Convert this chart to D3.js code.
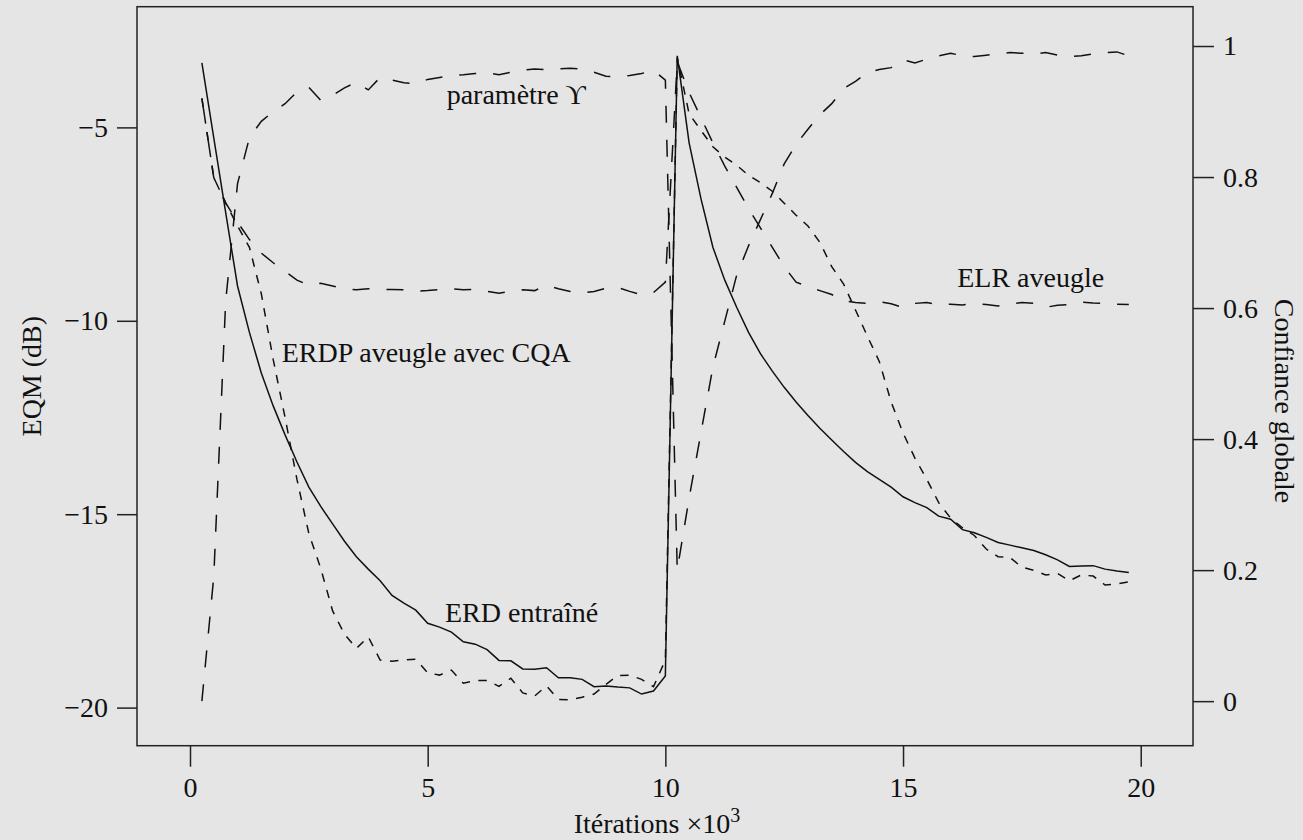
<!DOCTYPE html>
<html>
<head>
<meta charset="utf-8">
<script src="https://cdn.jsdelivr.net/npm/d3@7"></script>
<style>
  body { margin: 0; background: #e5e5e5; }
  svg { display: block; }
  text { font-family: "Liberation Serif", "Times New Roman", serif; fill: #111; }
</style>
</head>
<body>
<svg width="1303" height="840"></svg>
<script>
// iterations (x 10^3)
var iterations = [0.25,0.5,0.75,1,1.25,1.5,1.75,2,2.25,2.5,2.75,3,3.25,3.5,3.75,4,4.25,4.5,4.75,5,
  5.25,5.5,5.75,6,6.25,6.5,6.75,7,7.25,7.5,7.75,8,8.25,8.5,8.75,9,9.25,9.5,9.75,10,
  10.25,10.5,10.75,11,11.25,11.5,11.75,12,12.25,12.5,12.75,13,13.25,13.5,13.75,14,14.25,14.5,14.75,15,
  15.25,15.5,15.75,16,16.25,16.5,16.75,17,17.25,17.5,17.75,18,18.25,18.5,18.75,19,19.25,19.5,19.75];

// EQM (dB) - ERD entraîné
var erd = [-3.33,-5.27,-7.2,-9.1,-10.3,-11.35,-12.2,-12.95,-13.65,-14.3,-14.8,-15.25,-15.7,-16.1,-16.42,-16.72,-17.1,-17.3,-17.48,-17.82,
  -17.92,-18.05,-18.3,-18.36,-18.5,-18.78,-18.79,-19.0,-19.01,-18.97,-19.23,-19.23,-19.27,-19.46,-19.44,-19.47,-19.49,-19.65,-19.57,-19.18,
  -3.15,-5.4,-6.85,-8.1,-8.95,-9.65,-10.3,-10.85,-11.3,-11.72,-12.1,-12.45,-12.78,-13.08,-13.38,-13.66,-13.9,-14.1,-14.3,-14.55,
  -14.7,-14.83,-15.05,-15.13,-15.4,-15.48,-15.6,-15.73,-15.8,-15.87,-15.94,-16.05,-16.18,-16.35,-16.34,-16.33,-16.42,-16.47,-16.51];

// EQM (dB) - ERDP aveugle avec CQA
var erdp = [-4.25,-6.3,-6.95,-7.55,-8.1,-9.3,-11.0,-12.5,-14.1,-15.5,-16.4,-17.5,-18.1,-18.47,-18.17,-18.77,-18.8,-18.77,-18.75,-19.1,
  -19.16,-19.03,-19.37,-19.3,-19.3,-19.45,-19.24,-19.62,-19.7,-19.44,-19.79,-19.8,-19.73,-19.65,-19.4,-19.17,-19.16,-19.27,-19.46,-18.77,
  -3.2,-4.65,-5.08,-5.5,-5.77,-5.98,-6.24,-6.43,-6.65,-6.96,-7.27,-7.55,-7.97,-8.6,-9.05,-9.72,-10.4,-11.05,-12.1,-12.9,
  -13.55,-14.1,-14.7,-15.1,-15.35,-15.55,-15.9,-16.1,-16.12,-16.37,-16.45,-16.57,-16.53,-16.72,-16.57,-16.6,-16.83,-16.8,-16.75];

// EQM (dB) - ELR aveugle
var elr = [-4.25,-6.3,-6.95,-7.45,-7.9,-8.25,-8.5,-8.72,-8.95,-9.08,-9.03,-9.1,-9.17,-9.2,-9.17,-9.19,-9.19,-9.2,-9.24,-9.22,
  -9.19,-9.17,-9.2,-9.19,-9.24,-9.29,-9.23,-9.2,-9.22,-9.08,-9.17,-9.24,-9.28,-9.24,-9.16,-9.14,-9.24,-9.33,-9.27,-9.0,
  -3.3,-4.1,-4.75,-5.4,-6.0,-6.55,-7.1,-7.6,-8.1,-8.6,-9.0,-9.12,-9.22,-9.32,-9.48,-9.53,-9.55,-9.51,-9.56,-9.66,
  -9.55,-9.53,-9.59,-9.57,-9.59,-9.55,-9.58,-9.62,-9.56,-9.53,-9.55,-9.65,-9.6,-9.58,-9.52,-9.54,-9.55,-9.57,-9.58];

// Confiance globale - paramètre ϒ
var upsilon = [0.0,0.19,0.61,0.79,0.86,0.885,0.9,0.912,0.93,0.937,0.917,0.925,0.936,0.945,0.933,0.952,0.948,0.944,0.942,0.949,
  0.952,0.955,0.956,0.958,0.959,0.956,0.96,0.963,0.965,0.964,0.965,0.966,0.965,0.96,0.954,0.953,0.955,0.958,0.963,0.948,
  0.2,0.31,0.41,0.51,0.58,0.65,0.695,0.735,0.775,0.82,0.85,0.873,0.895,0.912,0.935,0.946,0.96,0.964,0.967,0.979,
  0.974,0.98,0.985,0.989,0.985,0.984,0.986,0.988,0.99,0.989,0.988,0.99,0.986,0.984,0.985,0.988,0.99,0.991,0.985];

var xTicks = [0, 5, 10, 15, 20];
var leftTicks = [-20, -15, -10, -5];
var rightTicks = [0, 0.2, 0.4, 0.6, 0.8, 1];

var svg = d3.select("svg");
var boxL = 137, boxR = 1193, boxT = 6.7, boxB = 745.7;

var x = d3.scaleLinear().domain([-1.115, 21.1]).range([boxL, boxR]);
var yL = d3.scaleLinear().domain([-20.985, -1.88]).range([boxB, boxT]);
var yR = d3.scaleLinear().domain([-0.068, 1.06]).range([boxB, boxT]);

var minus = function(d){ return String(d).replace("-", "\u2212"); };

// axes
var gx = svg.append("g").attr("transform", "translate(0," + boxB + ")")
  .call(d3.axisBottom(x).tickValues(xTicks).tickSize(21).tickPadding(10).tickFormat(minus));
var gl = svg.append("g").attr("transform", "translate(" + boxL + ",0)")
  .call(d3.axisLeft(yL).tickValues(leftTicks).tickSize(20).tickPadding(9).tickFormat(minus));
var gr = svg.append("g").attr("transform", "translate(" + boxR + ",0)")
  .call(d3.axisRight(yR).tickValues(rightTicks).tickSize(21).tickPadding(9).tickFormat(d3.format("~g")));

[gx, gl, gr].forEach(function(g){
  g.select(".domain").remove();
  g.selectAll("line").attr("stroke", "#222").attr("stroke-width", 1.5);
  g.selectAll("text").attr("font-size", 28).style("font-family", "'Liberation Serif', serif").attr("fill", "#111");
});

// box
svg.append("rect")
  .attr("x", boxL).attr("y", boxT)
  .attr("width", boxR - boxL).attr("height", boxB - boxT)
  .attr("fill", "none").attr("stroke", "#222").attr("stroke-width", 1.5);

// lines
var series = [
  {values: erd, scale: yL, dash: null},
  {values: erdp, scale: yL, dash: "8.5,8.5"},
  {values: elr, scale: yL, dash: "17,17"},
  {values: upsilon, scale: yR, dash: "17,17"}
];

series.forEach(function(s){
  var line = d3.line()
    .x(function(d, i){ return x(iterations[i]); })
    .y(function(d){ return s.scale(d); });
  svg.append("path")
    .datum(s.values)
    .attr("d", line)
    .attr("fill", "none")
    .attr("stroke", "#111")
    .attr("stroke-width", 1.5)
    .attr("stroke-dasharray", s.dash);
});

// curve labels
var labels = [
  {text: "paramètre \u03D2", x: 5.4, y: -4.395},
  {text: "ERDP aveugle avec CQA", x: 1.93, y: -11.06},
  {text: "ERD entraîné", x: 5.365, y: -17.78},
  {text: "ELR aveugle", x: 16.14, y: -9.12}
];
svg.selectAll(".lab").data(labels).enter()
  .append("text")
  .attr("class", "lab")
  .attr("x", function(d){ return x(d.x); })
  .attr("y", function(d){ return yL(d.y); })
  .attr("font-size", 28)
  .text(function(d){ return d.text; });

// axis titles
var xt = svg.append("text")
  .attr("x", 657).attr("y", 833)
  .attr("text-anchor", "middle")
  .attr("font-size", 28);
xt.append("tspan").text("Itérations \u00D710");
xt.append("tspan").attr("dy", -11).attr("font-size", 20).text("3");

svg.append("text")
  .attr("transform", "translate(41," + ((boxT + boxB) / 2) + ") rotate(-90)")
  .attr("text-anchor", "middle")
  .attr("font-size", 28)
  .text("EQM (dB)");

svg.append("text")
  .attr("transform", "translate(1275,401) rotate(90)")
  .attr("text-anchor", "middle")
  .attr("font-size", 28)
  .text("Confiance globale");
</script>
</body>
</html>
